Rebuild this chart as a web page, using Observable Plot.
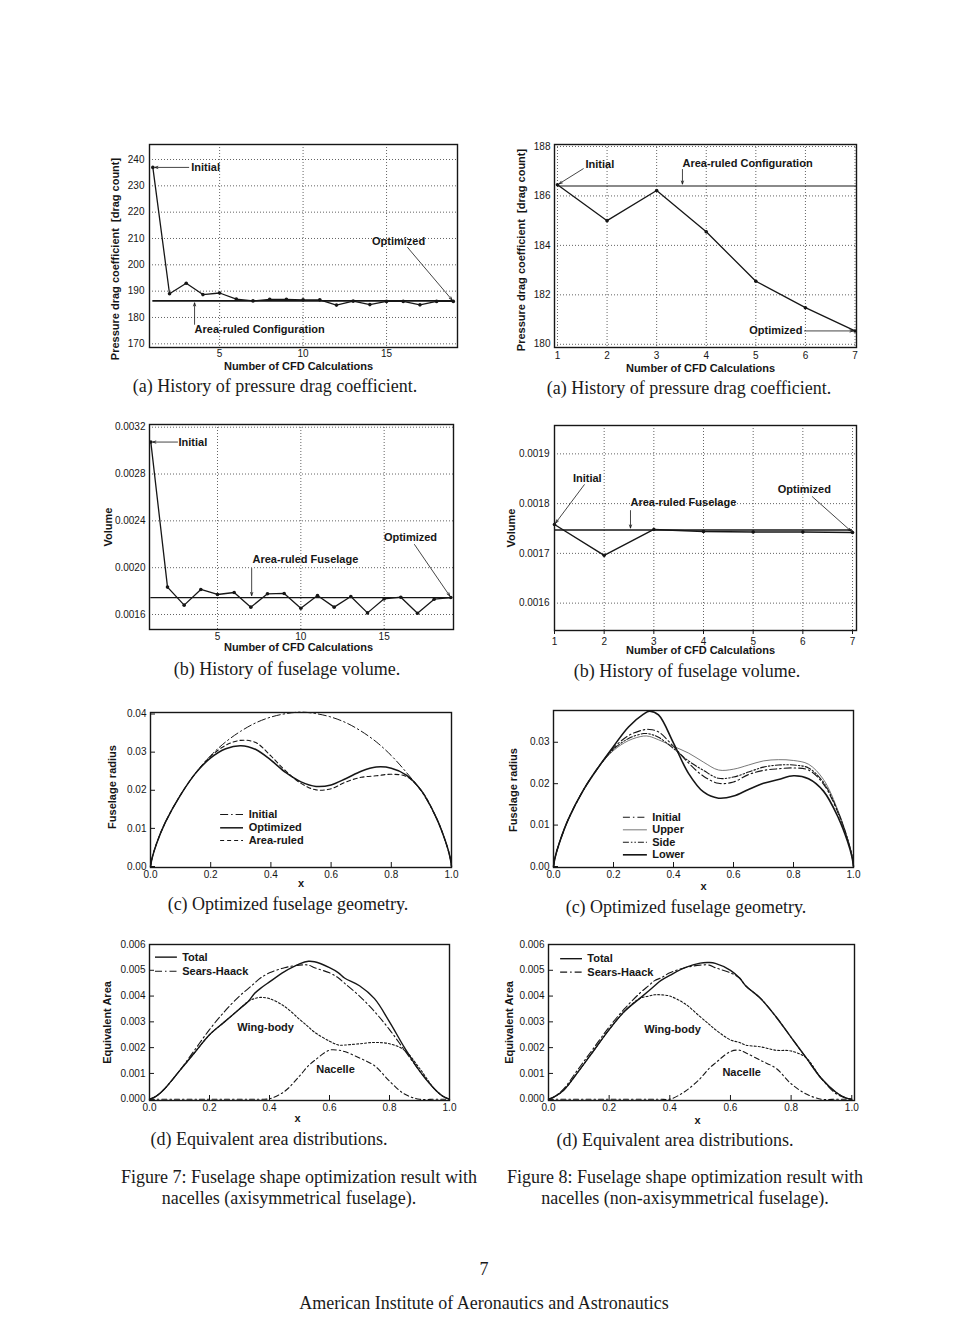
<!DOCTYPE html>
<html>
<head>
<meta charset="utf-8">
<script src="https://cdn.jsdelivr.net/npm/d3@7"></script>
<script src="https://cdn.jsdelivr.net/npm/@observablehq/plot@0.6"></script>
<style>
html, body { margin: 0; padding: 0; background: #fff; }
#page { position: relative; width: 970px; height: 1334px; overflow: hidden; background: #fff; }
.cap { position: absolute; font-family: "Liberation Serif", "DejaVu Serif", serif; font-size: 18px; line-height: 18px; color: #1a1a1a; white-space: nowrap; transform: translateX(-50%); }
</style>
</head>
<body>
<div id="page"></div>
<script>
// ---------------- DATA ----------------
// (a) history of pressure drag coefficient, axisymmetric (Fig. 7a)
const p1Iter = [1, 2, 3, 4, 5, 6, 7, 8, 9, 10, 11, 12, 13, 14, 15, 16, 17, 18, 19];
const p1Drag = [237.0, 189.0, 193.0, 188.7, 189.3, 187.0, 186.3, 186.9, 186.9, 186.7, 186.7, 184.7, 186.2, 184.9, 186.1, 186.1, 184.8, 186.1, 186.1];
const p1AreaRuled = 186.3;
const p1XTicks = [5, 10, 15];
const p1YTicks = [170, 180, 190, 200, 210, 220, 230, 240];

// (a) history of pressure drag coefficient, non-axisymmetric (Fig. 8a)
const p2Iter = [1, 2, 3, 4, 5, 6, 7];
const p2Drag = [186.45, 185.0, 186.22, 184.55, 182.55, 181.48, 180.54];
const p2AreaRuled = 186.4;
const p2XTicks = [1, 2, 3, 4, 5, 6, 7];
const p2YTicks = [180, 182, 184, 186, 188];

// (b) history of fuselage volume (Fig. 7b)
const p3Iter = [1, 2, 3, 4, 5, 6, 7, 8, 9, 10, 11, 12, 13, 14, 15, 16, 17, 18, 19];
const p3Volume = [0.003073, 0.001834, 0.001680, 0.001814, 0.001771, 0.001788, 0.001663, 0.001777, 0.001780, 0.001654, 0.001762, 0.001663, 0.001754, 0.001614, 0.001734, 0.001748, 0.001611, 0.001731, 0.001745];
const p3AreaRuled = 0.001745;
const p3XTicks = [5, 10, 15];
const p3YTicks = [0.0016, 0.0020, 0.0024, 0.0028, 0.0032];

// (b) history of fuselage volume (Fig. 8b)
const p4Iter = [1, 2, 3, 4, 5, 6, 7];
const p4Volume = [0.001758, 0.001696, 0.001748, 0.001744, 0.001743, 0.001743, 0.001742];
const p4AreaRuled = 0.001747;
const p4XTicks = [1, 2, 3, 4, 5, 6, 7];
const p4YTicks = [0.0016, 0.0017, 0.0018, 0.0019];

// (c) optimized fuselage geometry (Fig. 7c)
const p5X = [0, 0.005, 0.02, 0.05, 0.1, 0.15, 0.2, 0.25, 0.3, 0.35, 0.4, 0.45, 0.5, 0.55, 0.6, 0.65, 0.7, 0.75, 0.8, 0.85, 0.9, 0.95, 0.98, 0.995, 1];
const p5Initial   = [0, 0.0021, 0.0060, 0.0117, 0.0188, 0.0245, 0.0291, 0.0327, 0.0355, 0.0377, 0.0392, 0.0401, 0.0405, 0.0401, 0.0392, 0.0377, 0.0355, 0.0327, 0.0291, 0.0247, 0.0197, 0.0127, 0.0066, 0.0025, 0];
const p5Optimized = [0, 0.0021, 0.0060, 0.0117, 0.0188, 0.0245, 0.0285, 0.0309, 0.0317, 0.0307, 0.0279, 0.0246, 0.0222, 0.0210, 0.0214, 0.0231, 0.0250, 0.0261, 0.0258, 0.0240, 0.0199, 0.0127, 0.0066, 0.0025, 0];
const p5AreaRuled = [0, 0.0021, 0.0060, 0.0117, 0.0188, 0.0245, 0.0289, 0.0318, 0.0331, 0.0325, 0.0290, 0.0250, 0.0218, 0.0201, 0.0204, 0.0222, 0.0234, 0.0238, 0.0242, 0.0236, 0.0199, 0.0127, 0.0066, 0.0025, 0];
const p5Legend = ["Initial", "Optimized", "Area-ruled"];
const p5XTicks = [0, 0.2, 0.4, 0.6, 0.8, 1.0];
const p5YTicks = [0, 0.01, 0.02, 0.03, 0.04];

// (c) optimized fuselage geometry (Fig. 8c)
const p6X = [0, 0.005, 0.02, 0.05, 0.1, 0.15, 0.2, 0.25, 0.3, 0.32, 0.35, 0.4, 0.45, 0.5, 0.55, 0.6, 0.65, 0.7, 0.75, 0.8, 0.85, 0.9, 0.95, 0.98, 0.995, 1];
const p6Initial = [0, 0.0021, 0.0058, 0.0115, 0.0185, 0.0240, 0.0286, 0.0316, 0.0330, 0.0331, 0.0325, 0.0290, 0.0250, 0.0218, 0.0201, 0.0204, 0.0222, 0.0232, 0.0236, 0.0238, 0.0233, 0.0199, 0.0127, 0.0066, 0.0025, 0];
const p6Upper   = [0, 0.0021, 0.0058, 0.0115, 0.0185, 0.0240, 0.0280, 0.0304, 0.0315, 0.0314, 0.0306, 0.0290, 0.0274, 0.0252, 0.0233, 0.0235, 0.0245, 0.0255, 0.0258, 0.0256, 0.0247, 0.0210, 0.0132, 0.0068, 0.0026, 0];
const p6Side    = [0, 0.0021, 0.0058, 0.0115, 0.0185, 0.0240, 0.0283, 0.0309, 0.0321, 0.0320, 0.0312, 0.0285, 0.0255, 0.0232, 0.0213, 0.0216, 0.0228, 0.0240, 0.0245, 0.0245, 0.0238, 0.0203, 0.0129, 0.0067, 0.0025, 0];
const p6Lower   = [0, 0.0021, 0.0058, 0.0115, 0.0185, 0.0240, 0.0290, 0.0337, 0.0368, 0.0375, 0.0366, 0.0298, 0.0225, 0.0180, 0.0165, 0.0170, 0.0186, 0.0201, 0.0210, 0.0219, 0.0212, 0.0182, 0.0117, 0.0061, 0.0023, 0];
const p6Legend = ["Initial", "Upper", "Side", "Lower"];
const p6XTicks = [0, 0.2, 0.4, 0.6, 0.8, 1.0];
const p6YTicks = [0, 0.01, 0.02, 0.03];

// (d) equivalent area distributions (Fig. 7d)
const p7X = [0, 0.02, 0.05, 0.1, 0.15, 0.2, 0.25, 0.3, 0.33, 0.35, 0.37, 0.4, 0.45, 0.5, 0.53, 0.55, 0.6, 0.63, 0.65, 0.7, 0.75, 0.8, 0.85, 0.9, 0.95, 0.98, 1];
const p7Total       = [0, 0.0001, 0.0004, 0.0011, 0.0018, 0.0025, 0.0030, 0.0035, 0.0038, 0.0041, 0.0043, 0.00455, 0.00495, 0.00525, 0.00535, 0.00533, 0.0051, 0.0049, 0.0047, 0.0044, 0.0039, 0.0030, 0.0020, 0.0011, 0.0004, 0.0001, 0];
const p7SearsHaack  = [0, 0.0001, 0.0004, 0.0011, 0.0019, 0.0027, 0.0034, 0.0040, 0.0043, 0.0045, 0.0047, 0.0049, 0.0051, 0.0052, 0.0052, 0.0051, 0.0049, 0.0047, 0.0045, 0.0040, 0.0034, 0.0027, 0.0019, 0.0011, 0.0004, 0.0001, 0];
const p7WingBody    = [0, 0.0001, 0.0004, 0.0011, 0.0018, 0.0025, 0.0030, 0.0035, 0.0038, 0.0039, 0.00395, 0.0039, 0.0036, 0.0031, 0.0028, 0.0026, 0.00225, 0.0021, 0.0021, 0.00215, 0.0022, 0.00215, 0.0019, 0.0012, 0.0004, 0.0001, 0];
const p7Nacelle     = [0, 0, 0, 0, 0, 0, 0, 0, 0, 0, 0, 0.00002, 0.0003, 0.0009, 0.0013, 0.0015, 0.0019, 0.0019, 0.00185, 0.0016, 0.0013, 0.0007, 0.0002, 0, 0, 0, 0];
const p7Legend = ["Total", "Sears-Haack"];
const p7Labels = ["Wing-body", "Nacelle"];
const p7XTicks = [0, 0.2, 0.4, 0.6, 0.8, 1.0];
const p7YTicks = [0, 0.001, 0.002, 0.003, 0.004, 0.005, 0.006];

// (d) equivalent area distributions (Fig. 8d)
const p8X = [0, 0.02, 0.05, 0.1, 0.15, 0.2, 0.25, 0.3, 0.33, 0.35, 0.37, 0.4, 0.45, 0.5, 0.53, 0.55, 0.6, 0.63, 0.65, 0.7, 0.75, 0.8, 0.85, 0.9, 0.95, 0.98, 1];
const p8Total       = [0, 0.0001, 0.00035, 0.0011, 0.0019, 0.0027, 0.0034, 0.0039, 0.0042, 0.0044, 0.0046, 0.0048, 0.0051, 0.00528, 0.0053, 0.00527, 0.0050, 0.0047, 0.0044, 0.0039, 0.0032, 0.0024, 0.0016, 0.0008, 0.00025, 0.00005, 0];
const p8SearsHaack  = [0, 0.0001, 0.0004, 0.0012, 0.0020, 0.0028, 0.0035, 0.0041, 0.0044, 0.0046, 0.0047, 0.0049, 0.0051, 0.0052, 0.0052, 0.0051, 0.0049, 0.0047, 0.0044, 0.0039, 0.0032, 0.0024, 0.0016, 0.0008, 0.0002, 0.00005, 0];
const p8WingBody    = [0, 0.0001, 0.00035, 0.0011, 0.0019, 0.0027, 0.0034, 0.0039, 0.0040, 0.00405, 0.00405, 0.0040, 0.0037, 0.0032, 0.0029, 0.0027, 0.0023, 0.0022, 0.0021, 0.00203, 0.0019, 0.00187, 0.0016, 0.0008, 0.00025, 0.00005, 0];
const p8Nacelle     = [0, 0, 0, 0, 0, 0, 0, 0, 0, 0, 0, 0, 0.0003, 0.0008, 0.0012, 0.0014, 0.00185, 0.0019, 0.0018, 0.0015, 0.0012, 0.0006, 0.0002, 0, 0, 0, 0];
const p8Legend = ["Total", "Sears-Haack"];
const p8Labels = ["Wing-body", "Nacelle"];
const p8XTicks = [0, 0.2, 0.4, 0.6, 0.8, 1.0];
const p8YTicks = [0, 0.001, 0.002, 0.003, 0.004, 0.005, 0.006];

// texts
const histXTitle = "Number of CFD Calculations";
const dragYTitle = "Pressure drag coefficient  [drag count]";
const volYTitle = "Volume";
const radYTitle = "Fuselage radius";
const areaYTitle = "Equivalent Area";
const geomXTitle = "x";
const captions = [
  {text: "(a) History of pressure drag coefficient.", x: 275, y: 387},
  {text: "(a) History of pressure drag coefficient.", x: 689, y: 389},
  {text: "(b) History of fuselage volume.", x: 287, y: 670},
  {text: "(b) History of fuselage volume.", x: 687, y: 672},
  {text: "(c) Optimized fuselage geometry.", x: 288, y: 905},
  {text: "(c) Optimized fuselage geometry.", x: 686, y: 908},
  {text: "(d) Equivalent area distributions.", x: 269, y: 1140},
  {text: "(d) Equivalent area distributions.", x: 675, y: 1141},
  {text: "Figure 7: Fuselage shape optimization result with", x: 299, y: 1178},
  {text: "nacelles (axisymmetrical fuselage).", x: 289, y: 1199},
  {text: "Figure 8: Fuselage shape optimization result with", x: 685, y: 1178},
  {text: "nacelles (non-axisymmetrical fuselage).", x: 685, y: 1199},
  {text: "7", x: 484, y: 1270},
  {text: "American Institute of Aeronautics and Astronautics", x: 484, y: 1304}
];

// ---------------- DRAWING ----------------
const page = document.getElementById("page");
const FONT = "'Liberation Sans', Arial, Helvetica, sans-serif";
const INK = "#161616";
const TICKFS = 10;
const ML = 64, MR = 14, MT = 10, MB = 50;

function mount(frame, options, marks) {
  const [l, t, r, b] = frame;
  const svg = Plot.plot({
    width: r - l + ML + MR,
    height: b - t + MT + MB,
    marginLeft: ML, marginRight: MR, marginTop: MT, marginBottom: MB,
    style: {fontFamily: FONT, fontSize: "10px", color: INK, background: "transparent", overflow: "visible"},
    ...options,
    marks
  });
  svg.style.position = "absolute";
  svg.style.left = (l - ML) + "px";
  svg.style.top = (t - MT) + "px";
  page.appendChild(svg);
}

const grid = {stroke: "#333", strokeOpacity: 0.85, strokeDasharray: "1,2", strokeWidth: 0.9};
const frameMark = () => Plot.frame({stroke: INK, strokeWidth: 1.4});
const yTitle = (t, dx, dy = 0) => Plot.text([t], {frameAnchor: "left", text: d => d, rotate: -90, dx, dy, fontWeight: "bold", fontSize: 11, textAnchor: "middle", lineAnchor: "middle", fill: INK});
const xTitle = (t, dy, dx = 0) => Plot.text([t], {frameAnchor: "bottom", text: d => d, dx, dy, fontWeight: "bold", fontSize: 11, lineAnchor: "middle", fill: INK});
const note = (t, x, y, anchor = "start") => Plot.text([{t, x, y}], {x: "x", y: "y", text: "t", textAnchor: anchor, lineAnchor: "middle", fontWeight: "bold", fontSize: 11, fill: INK});
const arrow = (x1, y1, x2, y2) => Plot.arrow([{x1, y1, x2, y2}], {x1: "x1", y1: "y1", x2: "x2", y2: "y2", stroke: INK, strokeWidth: 0.8, headLength: 6, headAngle: 40, insetEnd: 2});
const series = (ys, xs, style) => Plot.line(ys, {x: (d, i) => xs[i], y: d => d, stroke: INK, curve: "catmull-rom", ...style});
const legendRow = (label, y, x1, x2, xt, style) => [
  Plot.ruleY([y], {x1, x2, stroke: INK, ...style}),
  Plot.text([label], {x: xt, y, text: d => d, textAnchor: "start", lineAnchor: "middle", fontWeight: "bold", fontSize: 11, fill: INK})
];
const axX = (ticks, o) => Plot.axisX(ticks, {label: null, fontSize: TICKFS, ...o});
const axY = (ticks, o) => Plot.axisY(ticks, {label: null, fontSize: TICKFS, ...o});
const last = a => a[a.length - 1];

// ---- Panel 1 ----
mount([149, 144, 457, 347], {
  x: {domain: [0.8, 19.25]}, y: {domain: [168.6, 245.7]}
}, [
  Plot.gridX(p1XTicks, grid), Plot.gridY(p1YTicks, grid),
  axX(p1XTicks, {tickSize: 0, tickPadding: 2}),
  axY(p1YTicks, {tickSize: 0, tickPadding: 5}),
  Plot.ruleY([p1AreaRuled], {x1: p1Iter[0], x2: last(p1Iter), stroke: INK, strokeWidth: 1.8}),
  Plot.line(p1Drag, {x: (d, i) => p1Iter[i], y: d => d, stroke: INK, strokeWidth: 1.3}),
  Plot.dot(p1Drag, {x: (d, i) => p1Iter[i], y: d => d, r: 1.8, fill: INK}),
  frameMark(),
  note("Initial", 3.3, p1Drag[0]), arrow(3.15, p1Drag[0], p1Iter[0], p1Drag[0]),
  note("Optimized", 15.72, 208.9, "middle"), arrow(16.26, 206.6, last(p1Iter), last(p1Drag)),
  note("Area-ruled Configuration", 3.5, 175.4), arrow(3.5, 177.4, 3.5, p1AreaRuled),
  yTitle(dragYTitle, -34, 13), xTitle(histXTitle, 19, -5)
]);

// ---- Panel 2 ----
mount([554, 144, 856, 347], {
  x: {domain: [0.94, 7.03]}, y: {domain: [179.87, 188.08]}
}, [
  Plot.gridX(p2XTicks, grid), Plot.gridY(p2YTicks, grid),
  axX(p2XTicks, {tickSize: 0, tickPadding: 4}),
  axY(p2YTicks, {tickSize: 0, tickPadding: 4}),
  Plot.ruleY([p2AreaRuled], {x1: p2Iter[0], x2: 7.03, stroke: INK, strokeWidth: 1.1}),
  Plot.line(p2Drag, {x: (d, i) => p2Iter[i], y: d => d, stroke: INK, strokeWidth: 1.3}),
  Plot.dot(p2Drag, {x: (d, i) => p2Iter[i], y: d => d, r: 1.8, fill: INK}),
  frameMark(),
  note("Initial", 1.565, 187.27), arrow(1.52, 187.1, p2Iter[0], p2Drag[0]),
  note("Area-ruled Configuration", 3.52, 187.31), arrow(3.52, 187.07, 3.52, p2AreaRuled),
  note("Optimized", 5.94, last(p2Drag), "end"), arrow(5.98, last(p2Drag), last(p2Iter), last(p2Drag)),
  yTitle(dragYTitle, -33, 4), xTitle(histXTitle, 21, -5)
]);

// ---- Panel 3 ----
mount([149, 424, 453, 629], {
  x: {domain: [0.92, 19.16]}, y: {domain: [0.001472, 0.003223]}
}, [
  Plot.gridX(p3XTicks, grid), Plot.gridY(p3YTicks, grid),
  axX(p3XTicks, {tickSize: 0, tickPadding: 3}),
  axY(p3YTicks, {tickSize: 0, tickPadding: 4, tickFormat: d3.format(".4f")}),
  Plot.ruleY([p3AreaRuled], {x1: p3Iter[0], x2: last(p3Iter), stroke: INK, strokeWidth: 1.3}),
  Plot.line(p3Volume, {x: (d, i) => p3Iter[i], y: d => d, stroke: INK, strokeWidth: 1.3}),
  Plot.dot(p3Volume, {x: (d, i) => p3Iter[i], y: d => d, r: 1.8, fill: INK}),
  frameMark(),
  note("Initial", 2.66, p3Volume[0]), arrow(2.6, p3Volume[0], p3Iter[0], p3Volume[0]),
  note("Optimized", 16.58, 0.002258, "middle"), arrow(16.82, 0.002198, last(p3Iter), last(p3Volume)),
  note("Area-ruled Fuselage", 7.1, 0.002070), arrow(7.05, 0.001993, 7.05, p3AreaRuled),
  yTitle(volYTitle, -41, 0), xTitle(histXTitle, 18, -3)
]);

// ---- Panel 4 ----
mount([554, 425, 856, 630], {
  x: {domain: [1, 7.08]}, y: {domain: [0.001545, 0.001957]}
}, [
  Plot.gridX(p4XTicks, grid), Plot.gridY(p4YTicks, grid),
  axX(p4XTicks, {tickSize: 4, tickPadding: 3}),
  axY(p4YTicks, {tickSize: 0, tickPadding: 5, tickFormat: d3.format(".4f")}),
  Plot.ruleY([p4AreaRuled], {x1: p4Iter[0], x2: last(p4Iter), stroke: INK, strokeWidth: 1.3}),
  Plot.line(p4Volume, {x: (d, i) => p4Iter[i], y: d => d, stroke: INK, strokeWidth: 1.4}),
  Plot.dot(p4Volume, {x: (d, i) => p4Iter[i], y: d => d, r: 1.8, fill: INK}),
  frameMark(),
  note("Initial", 1.66, 0.001850, "middle"), arrow(1.6, 0.001838, p4Iter[0], p4Volume[0]),
  note("Area-ruled Fuselage", 2.53, 0.001802), arrow(2.53, 0.001786, 2.53, p4AreaRuled),
  note("Optimized", 6.03, 0.001828, "middle"), arrow(6.19, 0.001814, last(p4Iter), last(p4Volume)),
  yTitle(volYTitle, -43, 0), xTitle(histXTitle, 20, -5)
]);

// ---- Panel 5 ----
const s5 = [
  {strokeDasharray: "8,3,1.5,3", strokeWidth: 1},
  {strokeWidth: 1.5},
  {strokeDasharray: "4,3", strokeWidth: 1.1}
];
const p5Series = [p5Initial, p5Optimized, p5AreaRuled];
mount([150, 712, 451, 867], {
  x: {domain: [0, 1]}, y: {domain: [-0.00026, 0.0404]}
}, [
  axX(p5XTicks, {tickSize: -5, tickPadding: 8, tickFormat: d3.format(".1f")}),
  axY(p5YTicks, {tickSize: -5, tickPadding: 9, tickFormat: d3.format(".2f")}),
  ...p5Series.map((ys, k) => series(ys, p5X, s5[k])),
  ...p5Legend.flatMap((lab, k) => legendRow(lab, [0.01364, 0.01015, 0.00682][k], 0.233, 0.309, 0.326, s5[k])),
  frameMark(),
  yTitle(radYTitle, -38, -3), xTitle(geomXTitle, 16)
]);

// ---- Panel 6 ----
const s6 = [
  {strokeDasharray: "7,3,1.5,3", strokeWidth: 1.1},
  {strokeWidth: 0.8, stroke: "#555"},
  {strokeDasharray: "6,2,1.5,2,1.5,2", strokeWidth: 1.1},
  {strokeWidth: 1.6}
];
const p6Series = [p6Initial, p6Upper, p6Side, p6Lower];
mount([553, 710, 853, 867], {
  x: {domain: [0, 1]}, y: {domain: [-0.00024, 0.03767]}
}, [
  axX(p6XTicks, {tickSize: -5, tickPadding: 8, tickFormat: d3.format(".1f")}),
  axY(p6YTicks, {tickSize: -5, tickPadding: 9, tickFormat: d3.format(".2f")}),
  ...p6Series.map((ys, k) => series(ys, p6X, s6[k])),
  ...p6Legend.flatMap((lab, k) => legendRow(lab, [0.01190, 0.00886, 0.00586, 0.00282][k], 0.233, 0.313, 0.329, s6[k])),
  frameMark(),
  yTitle(radYTitle, -40, 1), xTitle(geomXTitle, 19)
]);

// ---- Panel 7 ----
const s7 = [
  {strokeWidth: 1.4},
  {strokeDasharray: "7,3,1.5,3", strokeWidth: 1.1},
  {strokeDasharray: "2,2", strokeWidth: 1.1},
  {strokeDasharray: "5,3,1.5,3", strokeWidth: 1.1}
];
const p7Series = [p7Total, p7SearsHaack, p7WingBody, p7Nacelle];
mount([149, 944, 449, 1100], {
  x: {domain: [0, 1]}, y: {domain: [-0.00005, 0.006]}
}, [
  axX(p7XTicks, {tickSize: -5, tickPadding: 8, tickFormat: d3.format(".1f")}),
  axY(p7YTicks, {tickSize: -5, tickPadding: 9, tickFormat: d3.format(".3f")}),
  ...p7Series.map((ys, k) => series(ys, p7X, s7[k])),
  ...p7Legend.flatMap((lab, k) => legendRow(lab, [0.00551, 0.00496][k], 0.02, 0.093, 0.109, s7[k])),
  note(p7Labels[0], 0.387, 0.00278, "middle"),
  note(p7Labels[1], 0.62, 0.00115, "middle"),
  frameMark(),
  yTitle(areaYTitle, -42, 0), xTitle(geomXTitle, 18, -2)
]);

// ---- Panel 8 ----
const p8Series = [p8Total, p8SearsHaack, p8WingBody, p8Nacelle];
mount([548, 944, 854, 1100], {
  x: {domain: [0, 1.009]}, y: {domain: [-0.00005, 0.006]}
}, [
  axX(p8XTicks, {tickSize: -5, tickPadding: 8, tickFormat: d3.format(".1f")}),
  axY(p8YTicks, {tickSize: -5, tickPadding: 9, tickFormat: d3.format(".3f")}),
  ...p8Series.map((ys, k) => series(ys, p8X, s7[k])),
  ...p8Legend.flatMap((lab, k) => legendRow(lab, [0.00545, 0.00493][k], 0.04, 0.112, 0.128, s7[k])),
  note(p8Labels[0], 0.409, 0.00271, "middle"),
  note(p8Labels[1], 0.637, 0.00105, "middle"),
  frameMark(),
  yTitle(areaYTitle, -39, 0), xTitle(geomXTitle, 20, -4)
]);

// ---- Captions ----
for (const c of captions) {
  const div = document.createElement("div");
  div.className = "cap";
  div.textContent = c.text;
  div.style.left = c.x + "px";
  div.style.top = (c.y - 10) + "px";
  page.appendChild(div);
}
</script>
</body>
</html>
